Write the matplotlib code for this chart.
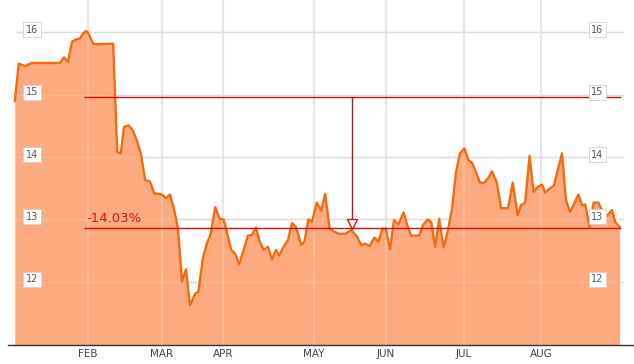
import matplotlib.pyplot as plt

# trading-day index and closing price
days = [0.0, 1.0, 1.7, 2.7, 3.5, 4.3, 11.3, 12.3, 13.3, 14.3, 15.4, 16.3, 16.8, 17.7, 18.2,
        19.6, 20.4, 24.6, 25.6, 26.5, 27.3, 28.4, 29.5, 30.5, 31.5, 32.6, 33.8, 34.8, 36.8,
        37.8, 38.8, 39.7, 40.8, 41.8, 42.8, 43.8, 45.1, 45.9, 47.0, 48.0, 49.0, 50.1, 51.2,
        52.2, 53.0, 54.1, 55.1, 56.1, 57.2, 58.3, 59.3, 60.3, 61.1, 62.2, 63.3, 64.3, 65.3,
        66.1, 67.2, 68.3, 69.3, 70.3, 71.6, 72.4, 73.4, 74.3, 75.5, 76.6, 77.6, 78.7, 79.7,
        80.9, 82.6, 84.1, 85.5, 86.6, 87.6, 88.7, 89.9, 90.9, 91.9, 92.8, 93.8, 94.8, 95.9,
        97.2, 98.3, 99.1, 101.1, 102.1, 103.2, 104.1, 105.1, 106.1, 107.2, 108.3, 109.3,
        110.3, 111.3, 112.4, 113.4, 114.3, 115.3, 116.3, 117.4, 118.3, 119.3, 120.5, 121.6,
        123.3, 124.5, 125.7, 126.6, 127.6, 128.7, 129.7, 130.7, 131.8, 132.6, 133.8, 134.8,
        136.8, 137.8, 138.8, 139.9, 140.9, 141.8, 142.6, 143.7, 144.7, 145.9, 146.8, 148.0,
        149.3, 150.1, 151.2]
price = [14.90, 15.50, 15.48, 15.46, 15.49, 15.51, 15.51, 15.60, 15.53, 15.85, 15.89, 15.90,
         15.96, 16.02, 16.01, 15.82, 15.81, 15.82, 14.08, 14.06, 14.48, 14.51, 14.43, 14.27,
         14.06, 13.63, 13.61, 13.42, 13.40, 13.34, 13.40, 13.20, 12.85, 12.00, 12.20, 11.62,
         11.81, 11.84, 12.37, 12.61, 12.77, 13.20, 13.01, 13.00, 12.80, 12.51, 12.45, 12.28,
         12.51, 12.74, 12.75, 12.87, 12.67, 12.51, 12.56, 12.36, 12.51, 12.42, 12.56, 12.67,
         12.94, 12.88, 12.59, 12.64, 13.00, 12.96, 13.27, 13.14, 13.41, 12.85, 12.81, 12.77,
         12.77, 12.83, 12.73, 12.59, 12.61, 12.57, 12.71, 12.64, 12.85, 12.85, 12.52, 12.99,
         12.92, 13.11, 12.87, 12.74, 12.74, 12.91, 13.00, 12.96, 12.56, 13.01, 12.55, 12.83,
         13.17, 13.76, 14.06, 14.14, 13.95, 13.91, 13.76, 13.59, 13.59, 13.66, 13.77, 13.59,
         13.18, 13.18, 13.59, 13.07, 13.23, 13.27, 14.02, 13.44, 13.52, 13.56, 13.43, 13.50,
         13.55, 14.06, 13.31, 13.12, 13.26, 13.40, 13.23, 13.24, 12.88, 13.27, 13.27, 13.15,
         13.05, 13.15, 12.96, 12.88]

month_pos = [18.3, 36.8, 52.0, 74.7, 92.8, 112.3, 131.6]
month_labels = ["FEB", "MAR", "APR", "MAY", "JUN", "JUL", "AUG"]
y_levels = [12, 13, 14, 15, 16]

ref_high = 14.96
change_pct = -14.03
ref_low = ref_high * (1 + change_pct / 100)
ref_start, ref_end = 17.3, 151.6
marker_day = 84.4

YMIN, YMAX = 10.99, 16.52

fig = plt.figure(figsize=(6.34, 3.64), dpi=100)
ax = fig.add_axes([8 / 634, 19.3 / 364, 626 / 634, 344.7 / 364])
ax.set_xlim(-1.7, 154.8)
ax.set_ylim(YMIN, YMAX)

# grid
for m in month_pos:
    ax.axvline(m, color="#E2E2E2", lw=1.6, zorder=0)
    ax.axvline(m, color="white", lw=1.6, alpha=0.18, zorder=3)
ax.hlines(y_levels, 0.3, 152.3, color="#D6D6D6", lw=1, zorder=0)
ax.hlines(y_levels, 0.3, 152.3, color="white", lw=1, alpha=0.15, zorder=3)

ax.fill_between(days, price, YMIN, color="#FCAA7E", lw=0, zorder=1)
ax.plot(days, price, color="#F26B12", lw=1.7, zorder=4, solid_joinstyle="round")

# reference lines
ax.hlines([ref_high, ref_low], ref_start, ref_end, color="#CC1111", lw=1, zorder=5)
ax.vlines(marker_day, ref_low + 0.06, ref_high, color="#BB1122", lw=1, zorder=5)
ax.plot([marker_day], [ref_low + 0.06], marker="v", ms=7, mfc="white", mec="#CC1111",
        mew=1, zorder=6)
ax.text(17.8, 13.02, f"{change_pct:.2f}%", color="#DD1111", fontsize=9.5,
        ha="left", va="center", zorder=6)

# y labels on both sides
box = dict(boxstyle="square,pad=0.25", fc="white", ec="#D0D0D0", lw=0.6)
for v in y_levels:
    for xp in (4.3, 145.6):
        ax.text(xp, v + 0.04, str(v), fontsize=7, color="#555555", ha="center",
                va="center", bbox=box, zorder=7)

ax.set_yticks([])
ax.set_xticks(month_pos)
ax.set_xticklabels(month_labels, fontsize=7.5, color="#444444")
ax.tick_params(axis="x", length=0, pad=3)
for s in ["top", "right", "left"]:
    ax.spines[s].set_visible(False)
ax.spines["bottom"].set_color("#333333")
ax.spines["bottom"].set_linewidth(1)
ax.set_facecolor("white")

fig.savefig("out.png", dpi=100)
